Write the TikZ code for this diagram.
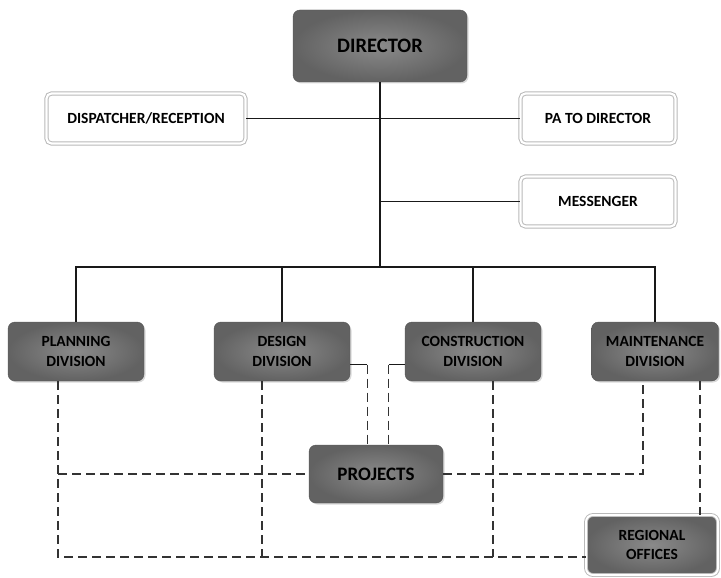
\documentclass[tikz,border=0pt]{standalone}
\usepackage{fontspec}
\setmainfont{Carlito}
\usetikzlibrary{shadows}

\begin{document}
\begin{tikzpicture}[x=1pt, y=-1pt,
    darkbox/.style={rectangle, rounded corners=7pt, draw={rgb,255:red,85;green,85;blue,85},
      inner color={rgb,255:red,138;green,138;blue,138}, outer color={rgb,255:red,98;green,98;blue,98},
      drop shadow={opacity=0.3, shadow xshift=1.5pt, shadow yshift=-1.5pt},
      font=\bfseries\fontsize{15.5}{19.5}\selectfont, align=center},
    whitebox/.style={rectangle, rounded corners=5pt, draw=gray!55, double=white, double distance=2.2pt,
      line width=1pt, font=\bfseries\fontsize{15.5}{18}\selectfont, align=center},
    dashline/.style={dash pattern=on 9pt off 5pt, line width=1.3pt, draw=black!80},
    solidline/.style={line width=1.1pt, draw=black!90}]
    \useasboundingbox (0,0) rectangle (721,578);

    % top level
    \node[darkbox, minimum width=174pt, minimum height=72pt, font=\bfseries\fontsize{20.5}{24}\selectfont] (dir) at (380,46) {DIRECTOR};
    \node[whitebox, minimum width=199pt, minimum height=50pt] (disp) at (146,118.5) {DISPATCHER/RECEPTION};
    \node[whitebox, minimum width=155pt, minimum height=50pt] (pa) at (598,118.5) {PA TO DIRECTOR};
    \node[whitebox, minimum width=155pt, minimum height=50pt] (mess) at (598,201.5) {MESSENGER};

    % divisions
    \node[darkbox, minimum width=136pt, minimum height=59pt] (plan) at (76,351.5) {PLANNING\\DIVISION};
    \node[darkbox, minimum width=136pt, minimum height=59pt] (des) at (282,351.5) {DESIGN\\DIVISION};
    \node[darkbox, minimum width=136pt, minimum height=59pt] (con) at (473,351.5) {CONSTRUCTION\\DIVISION};
    \node[darkbox, minimum width=127pt, minimum height=59pt] (maint) at (655,351.5) {MAINTENANCE\\DIVISION};
    \node[darkbox, minimum width=134pt, minimum height=58pt, font=\bfseries\fontsize{19}{22}\selectfont] (proj) at (376,474) {PROJECTS};
    \node[darkbox, draw=gray!55, double=white, double distance=2pt, line width=0.9pt,
      minimum width=132pt, minimum height=60pt] (reg) at (652,545) {REGIONAL\\OFFICES};

    \coordinate (bus) at (380,267);
    \coordinate (low) at ([yshift=-12pt]reg.west);

    \draw[solidline] (dir.south) -- (bus);
    \draw[solidline] (disp.east) -- (pa.west);
    \draw[solidline] (dir.south |- mess.west) -- (mess.west);
    \draw[solidline] (plan.north) |- (bus) -| (maint.north);
    \draw[solidline] (des.north) -- (des.north |- bus);
    \draw[solidline] (con.north) -- (con.north |- bus);

    % project links
    \draw[dashline] ([xshift=-18pt]plan.south) |- (low);
    \draw[dashline] ([xshift=-18pt]plan.south |- proj.west) -- (proj.west);
    \draw[dashline] ([xshift=-20pt]des.south) -- ([xshift=-20pt]des.south |- low);
    \draw[dashline] ([xshift=20pt]con.south) -- ([xshift=20pt]con.south |- low);
    \draw[solidline] ([yshift=-13pt]des.east) -- ++(17,0) coordinate (dj);
    \draw[dashline] (dj) -- (dj |- proj.north);
    \draw[solidline] ([yshift=-13pt]con.west) -- ++(-16,0) coordinate (cj);
    \draw[dashline] (cj) -- (cj |- proj.north);
    \draw[dashline] (proj.east) -| ([xshift=-12pt]maint.south);
    \draw[dashline] ([xshift=45pt]maint.south) -- ([xshift=45pt]maint.south |- reg.north);
\end{tikzpicture}
\end{document}
